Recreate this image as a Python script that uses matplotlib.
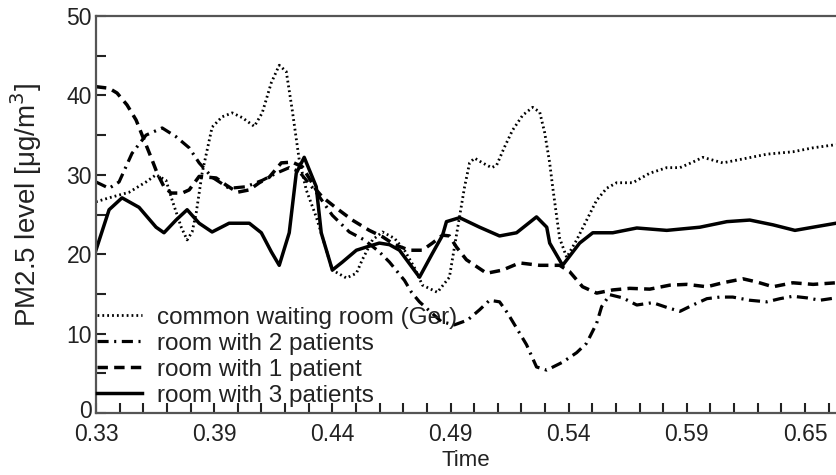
import numpy as np
import matplotlib
matplotlib.use("Agg")
import matplotlib.pyplot as plt
from matplotlib.ticker import MultipleLocator, FixedLocator
from matplotlib.transforms import ScaledTranslation

# ---------------- data (time as fraction of day, PM2.5 in ug/m3) ----------------
t_common = [0.3333, 0.3391, 0.3479, 0.3554, 0.3598, 0.3642, 0.3669, 0.3709, 0.3735, 0.3757,
            0.3775, 0.3801, 0.3845, 0.3889, 0.3934, 0.3978, 0.4031, 0.4066, 0.4106, 0.4141,
            0.4172, 0.4198, 0.4229, 0.4260, 0.4304, 0.4331, 0.4375, 0.4437, 0.4481, 0.4507,
            0.4552, 0.4596, 0.4649, 0.4693, 0.4737, 0.4772, 0.4838, 0.4891, 0.4922, 0.4958,
            0.4980, 0.5002, 0.5037, 0.5077, 0.5099, 0.5134, 0.5169, 0.5214, 0.5258, 0.5289,
            0.5311, 0.5333, 0.5346, 0.5364, 0.5377, 0.5408, 0.5452, 0.5496, 0.5540, 0.5584,
            0.5628, 0.5699, 0.5774, 0.5849, 0.5907, 0.5964, 0.6008, 0.6096, 0.6185, 0.6291,
            0.6405, 0.6494, 0.6595]
v_common = [26.6, 27.1, 27.8, 29.1, 30.0, 29.3, 26.8, 23.4, 21.8, 22.8,
            25.2, 30.2, 36.0, 37.3, 37.8, 37.2, 36.1, 37.8, 41.6, 43.8,
            43.0, 38.2, 31.9, 28.1, 24.7, 22.2, 18.0, 17.0, 17.6, 19.3,
            21.8, 22.8, 22.0, 20.5, 18.3, 16.1, 15.2, 17.1, 22.4, 28.5,
            31.5, 32.1, 31.5, 30.9, 31.2, 33.5, 35.6, 37.5, 38.5, 37.9,
            35.3, 31.5, 28.5, 24.7, 22.0, 19.6, 21.8, 24.3, 26.8, 28.3,
            29.0, 29.0, 30.2, 30.9, 30.9, 31.6, 32.2, 31.5, 32.0, 32.6,
            32.9, 33.4, 33.8]

t_two = [0.3333, 0.3391, 0.3435, 0.3492, 0.3554, 0.3625, 0.3686, 0.3744, 0.3788, 0.3845,
         0.3920, 0.3995, 0.4066, 0.4128, 0.4185, 0.4229, 0.4304, 0.4375, 0.4450, 0.4516,
         0.4582, 0.4627, 0.4693, 0.4724, 0.4759, 0.4856, 0.4913, 0.4971, 0.5024, 0.5068,
         0.5112, 0.5147, 0.5187, 0.5231, 0.5275, 0.5320, 0.5390, 0.5452, 0.5496, 0.5540,
         0.5562, 0.5598, 0.5655, 0.5717, 0.5787, 0.5849, 0.5907, 0.5964, 0.6026, 0.6083,
         0.6140, 0.6215, 0.6290, 0.6348, 0.6405, 0.6467, 0.6524, 0.6595]
v_two = [29.1, 28.3, 29.1, 32.7, 35.0, 35.9, 34.8, 33.4, 31.5, 29.7,
         28.3, 28.5, 29.3, 30.2, 30.9, 30.4, 27.8, 24.9, 22.8, 21.8,
         20.3, 19.0, 16.7, 15.2, 14.0, 11.5, 11.1, 11.7, 13.0, 14.2,
         14.0, 12.6, 10.7, 8.6, 5.8, 5.4, 6.4, 7.6, 8.8, 11.3,
         13.4, 14.9, 14.5, 13.6, 13.9, 13.3, 12.8, 13.6, 14.4, 14.6,
         14.6, 14.2, 14.0, 14.4, 14.7, 14.5, 14.2, 14.5]

t_one = [0.3333, 0.3391, 0.3426, 0.3470, 0.3510, 0.3545, 0.3576, 0.3603, 0.3633, 0.3664,
         0.3713, 0.3744, 0.3788, 0.3863, 0.3907, 0.3956, 0.4009, 0.4053, 0.4097, 0.4150,
         0.4198, 0.4243, 0.4304, 0.4331, 0.4393, 0.4463, 0.4538, 0.4596, 0.4649, 0.4715,
         0.4772, 0.4816, 0.4861, 0.4891, 0.4922, 0.4966, 0.5055, 0.5125, 0.5200, 0.5289,
         0.5377, 0.5421, 0.5478, 0.5540, 0.5611, 0.5686, 0.5774, 0.5862, 0.5937, 0.6026,
         0.6096, 0.6185, 0.6246, 0.6317, 0.6405, 0.6494, 0.6595]
v_one = [41.1, 40.9, 40.3, 38.8, 36.9, 34.4, 32.2, 30.2, 28.5, 27.7,
         27.7, 28.1, 29.8, 29.6, 28.7, 27.8, 28.1, 29.0, 29.7, 31.5,
         31.6, 31.0, 28.1, 27.2, 25.8, 24.3, 23.0, 22.2, 21.2, 20.5,
         20.5, 21.4, 22.4, 22.3, 20.9, 19.3, 17.6, 18.0, 18.9, 18.6,
         18.6, 17.8, 15.9, 15.1, 15.5, 15.7, 15.6, 16.1, 16.2, 15.9,
         16.4, 16.9, 16.5, 15.9, 16.4, 16.2, 16.4]

t_three = [0.3333, 0.3391, 0.3448, 0.3523, 0.3598, 0.3633, 0.3686, 0.3735, 0.3788, 0.3845,
           0.3920, 0.4009, 0.4062, 0.4106, 0.4141, 0.4185, 0.4216, 0.4251, 0.4304, 0.4326,
           0.4375, 0.4419, 0.4481, 0.4525, 0.4582, 0.4627, 0.4671, 0.4759, 0.4816, 0.4861,
           0.4878, 0.4936, 0.5024, 0.5112, 0.5187, 0.5275, 0.5320, 0.5333, 0.5390, 0.5465,
           0.5523, 0.5611, 0.5717, 0.5849, 0.5995, 0.6114, 0.6215, 0.6317, 0.6414, 0.6494,
           0.6595]
v_three = [20.5, 25.6, 27.1, 25.9, 23.4, 22.7, 24.3, 25.6, 23.9, 22.8,
           23.9, 23.9, 22.7, 20.3, 18.6, 22.7, 30.2, 32.2, 28.5, 22.7,
           18.0, 19.0, 20.5, 20.9, 21.4, 21.2, 20.5, 17.1, 20.1, 22.4,
           24.1, 24.6, 23.4, 22.3, 22.7, 24.7, 23.4, 21.4, 18.6, 21.4,
           22.7, 22.7, 23.3, 23.0, 23.4, 24.1, 24.3, 23.7, 23.0, 23.4,
           23.9]

labels = ["common waiting room (Ger)", "room with 2 patients",
          "room with 1 patient", "room with 3 patients"]
y_major = [0, 10, 20, 30, 40, 50]
x_major_minutes = np.arange(8 * 60, 16 * 60 + 1, 75)   # label every 75 min from 08:00
x_minor_minutes = np.arange(8 * 60, 16 * 60 + 1, 15)   # tick every 15 min

# ---------------- figure ----------------
plt.rcParams['font.family'] = ['Liberation Sans', 'DejaVu Sans']
plt.rcParams['lines.scale_dashes'] = False

fig = plt.figure(figsize=(8.36, 4.75), dpi=100)
ax = fig.add_axes([96 / 836, (475 - 413) / 475, (836 - 96) / 836, (413 - 16) / 475])

ax.plot(t_common, v_common, color='black', lw=2.0, ls=(0, (1.3, 2.2)), label=labels[0])
ax.plot(t_two, v_two, color='black', lw=2.3, ls=(0, (8, 4, 1.5, 4)), label=labels[1])
ax.plot(t_one, v_one, color='black', lw=2.5, ls=(0, (7.5, 4.5)), label=labels[2])
ax.plot(t_three, v_three, color='black', lw=2.5, ls='-', label=labels[3])

ax.set_xlim(0.33333, 0.6595)
ax.set_ylim(0, 50)

major_x = x_major_minutes / 1440.0
ax.xaxis.set_major_locator(FixedLocator(major_x))
ax.set_xticklabels([f"{v:.2f}" for v in major_x])
ax.xaxis.set_minor_locator(FixedLocator(x_minor_minutes / 1440.0))
ax.set_yticks(y_major)
ax.set_yticklabels([str(v) for v in y_major])
ax.yaxis.set_minor_locator(MultipleLocator(5))

ax.tick_params(axis='both', which='both', direction='in', width=1.5, colors='#222222',
               labelcolor='#222222', labelsize=16.5)
ax.tick_params(axis='x', which='both', length=7, pad=7)
ax.tick_params(axis='y', which='both', length=7, pad=3)

# the "0" label sits slightly above the axis line, as in the reference
zero_lbl = ax.yaxis.get_major_ticks()[0].label1
zero_lbl.set_transform(zero_lbl.get_transform() + ScaledTranslation(0, 0.04, fig.dpi_scale_trans))

for side in ['left', 'bottom', 'top']:
    ax.spines[side].set_color('#555555')
    ax.spines[side].set_linewidth(1.6)
ax.spines['right'].set_visible(False)

ax.set_xlabel("Time", fontsize=16, color='#222222')
ax.xaxis.set_label_coords((466 - 96) / 740, -(471 - 413) / 397)
ax.xaxis.label.set_va('bottom')
ax.set_ylabel("PM2.5 level [\u03bcg/m$^3$]", fontsize=20, color='#222222')
ax.yaxis.set_label_coords(-(96 - 44) / 740, (413 - 205) / 397)

leg = ax.legend(loc='lower left', bbox_to_anchor=(0.0015, 0.016), frameon=False,
                fontsize=17.5, handlelength=1.85, handletextpad=0.62, labelspacing=0.16,
                borderaxespad=0.0, borderpad=0.0)
for txt in leg.get_texts():
    txt.set_color('#222222')

fig.savefig("out.png", dpi=100)
